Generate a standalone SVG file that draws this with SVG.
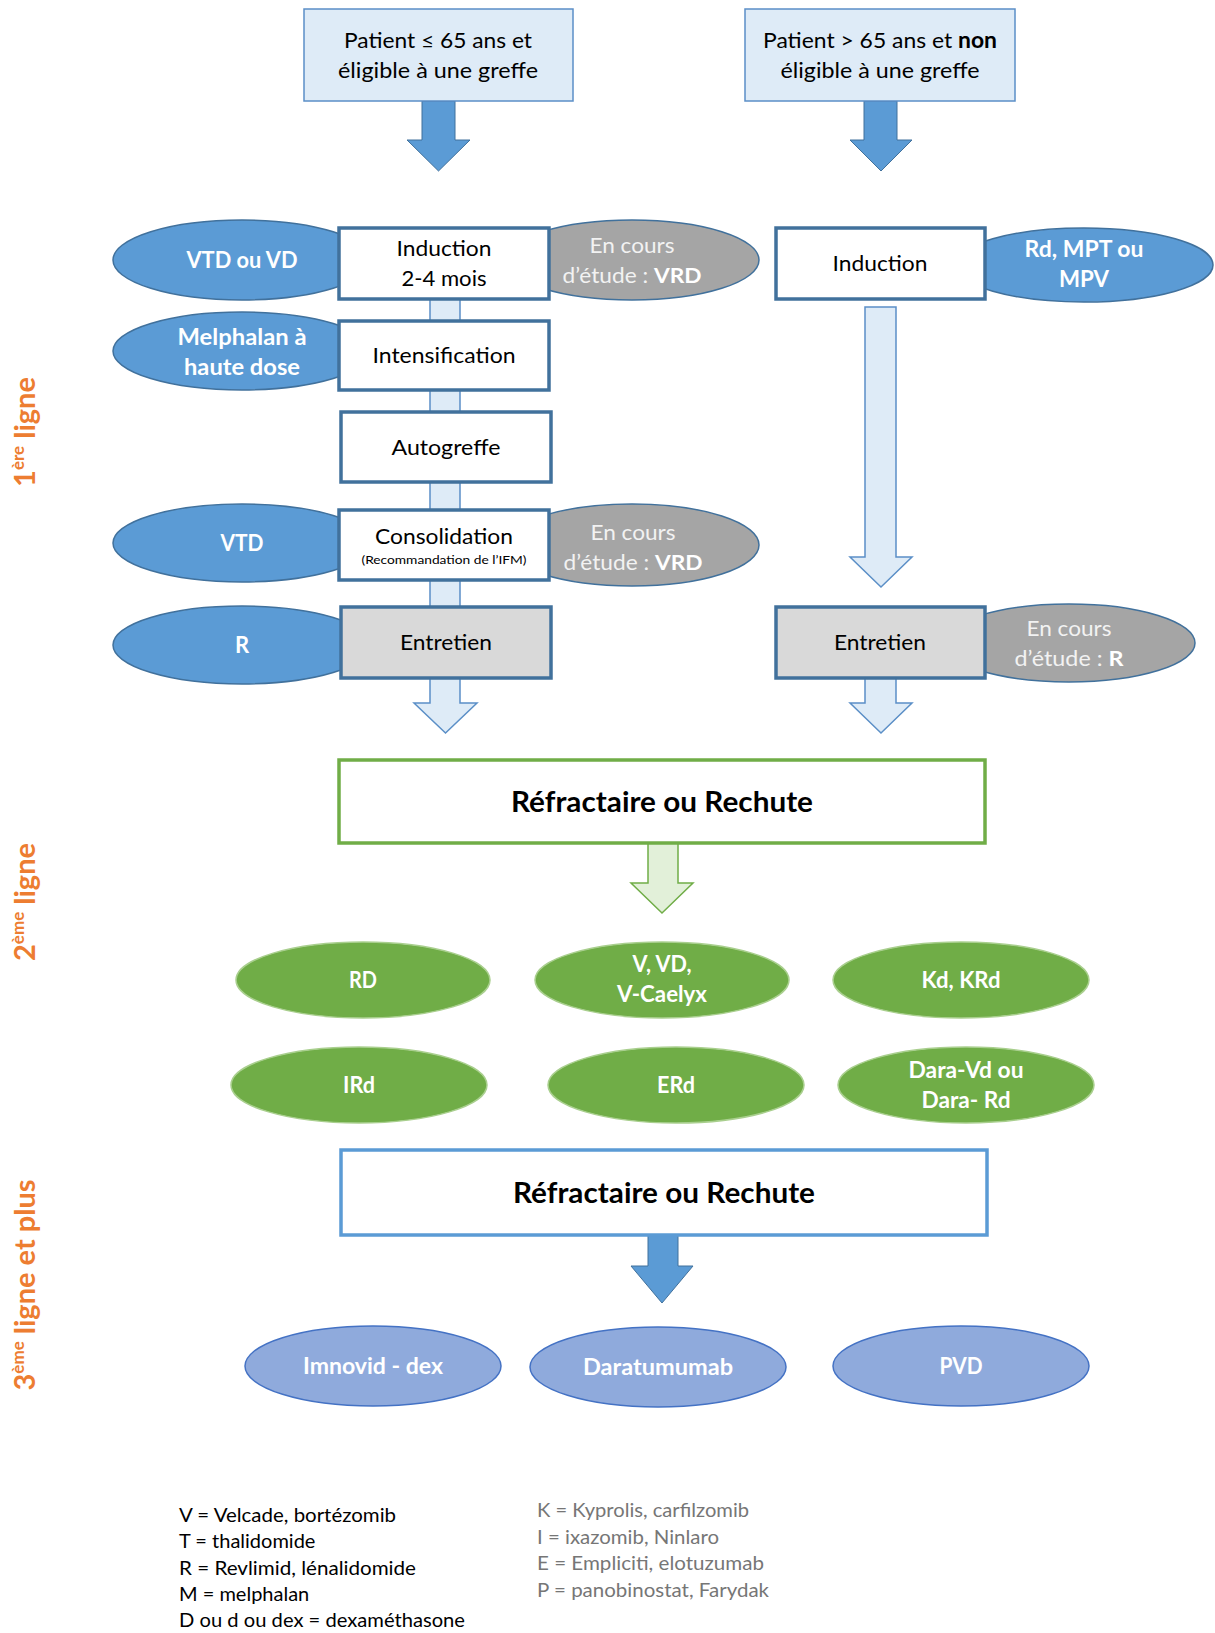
<svg xmlns="http://www.w3.org/2000/svg" width="1215" height="1633" viewBox="0 0 1215 1633">
<style>
text{font-family:Lato,"Open Sans","Liberation Sans",sans-serif}
.bx{fill:#fff;stroke:#41719c;stroke-width:3.5}
.gb{fill:#d9d9d9;stroke:#41719c;stroke-width:3.5}
.tb{fill:#deebf7;stroke:#5b8fc7;stroke-width:1.5}
.be{fill:#5b9bd5;stroke:#41719c;stroke-width:1.5}
.ge{fill:#a5a5a5;stroke:#41719c;stroke-width:1.5}
.gr{fill:#70ad47;stroke:#a9cf8e;stroke-width:1.5}
.pe{fill:#8faadc;stroke:#4472c4;stroke-width:1.5}
.t{font-size:22px;fill:#000;text-anchor:middle}
.w{font-size:22px;fill:#fff;font-weight:bold;text-anchor:middle}
.c{font-size:21px;fill:#f2f2f2;text-anchor:middle}
.big{font-size:28px;font-weight:bold;fill:#000;text-anchor:middle}
.lab{font-size:29px;fill:#ed7d31;font-weight:bold;text-anchor:middle}
.lg{font-size:20px;fill:#000}
.lg2{font-size:20px;fill:#767676}
.arrB{fill:#5b9bd5;stroke:#41719c;stroke-width:1}
.arrL{fill:#deebf7;stroke:#5b8fc7;stroke-width:1.5}
.arrG{fill:#e2f0d9;stroke:#70ad47;stroke-width:1.5}
</style>

<g id="connectors">
  <path class="arrB" d="M422,101 H455 V140 H470 L438.5,171 L407,140 H422 Z"/>
  <path class="arrB" d="M864,101 H897 V140 H912 L881,171 L850,140 H864 Z"/>
  <path class="arrL" d="M430,299 H460 V703 H477 L445.5,733 L414,703 H430 Z"/>
  <path class="arrL" d="M865,307 H896 V557 H912 L881,587 L850,557 H865 Z"/>
  <path class="arrL" d="M865,678 H896 V703 H912 L881,733 L850,703 H865 Z"/>
  <path class="arrG" d="M648,843 H678 V883 H693 L662,913 L631,883 H648 Z"/>
  <path class="arrB" d="M648,1235 H678 V1266 H693 L662,1303 L631,1266 H648 Z"/>
</g>

<g id="labels">
  <text class="lab" transform="translate(35,432) rotate(-90)">1<tspan font-size="17" dy="-11">ère</tspan><tspan dy="11"> ligne</tspan></text>
  <text class="lab" transform="translate(35,902) rotate(-90)">2<tspan font-size="17" dy="-11">ème</tspan><tspan dy="11"> ligne</tspan></text>
  <text class="lab" transform="translate(35,1285) rotate(-90)">3<tspan font-size="17" dy="-11">ème</tspan><tspan dy="11"> ligne et plus</tspan></text>
</g>

<g id="patient-jeune">
  <rect class="tb" x="304" y="9" width="269" height="92"/>
  <text class="t" x="438" y="48" textLength="188" lengthAdjust="spacingAndGlyphs">Patient ≤ 65 ans et</text>
  <text class="t" x="438" y="78" textLength="200" lengthAdjust="spacingAndGlyphs">éligible à une greffe</text>
</g>
<g id="patient-age">
  <rect class="tb" x="745" y="9" width="270" height="92"/>
  <text class="t" x="880" y="48" textLength="234" lengthAdjust="spacingAndGlyphs">Patient &gt; 65 ans et <tspan font-weight="bold">non</tspan></text>
  <text class="t" x="880" y="78" textLength="199" lengthAdjust="spacingAndGlyphs">éligible à une greffe</text>
</g>

<g id="vtd-vd">
  <ellipse class="be" cx="242" cy="260" rx="129" ry="40"/>
  <text class="w" x="242" y="268" textLength="111" lengthAdjust="spacingAndGlyphs">VTD ou VD</text>
</g>
<g id="etude-vrd-1">
  <ellipse class="ge" cx="632" cy="260" rx="127" ry="40"/>
  <text class="c" x="632" y="253" textLength="85" lengthAdjust="spacingAndGlyphs">En cours</text>
  <text class="c" x="632" y="283" textLength="139" lengthAdjust="spacingAndGlyphs">d’étude  : <tspan font-weight="bold" fill="#fff">VRD</tspan></text>
</g>
<g id="induction-1">
  <rect class="bx" x="339" y="228" width="210" height="71"/>
  <text class="t" x="444" y="256" textLength="95" lengthAdjust="spacingAndGlyphs">Induction</text>
  <text class="t" x="444" y="286" textLength="85" lengthAdjust="spacingAndGlyphs">2-4 mois</text>
</g>

<g id="melphalan">
  <ellipse class="be" cx="242" cy="351" rx="129" ry="39"/>
  <text class="w" x="242" y="345" textLength="129" lengthAdjust="spacingAndGlyphs">Melphalan à</text>
  <text class="w" x="242" y="375" textLength="116" lengthAdjust="spacingAndGlyphs">haute dose</text>
</g>
<g id="intensification">
  <rect class="bx" x="339" y="321" width="210" height="69"/>
  <text class="t" x="444" y="363" textLength="143" lengthAdjust="spacingAndGlyphs">Intensification</text>
</g>

<g id="autogreffe">
  <rect class="bx" x="341" y="412" width="210" height="70"/>
  <text class="t" x="446" y="455" textLength="109" lengthAdjust="spacingAndGlyphs">Autogreffe</text>
</g>

<g id="vtd">
  <ellipse class="be" cx="242" cy="543" rx="129" ry="39"/>
  <text class="w" x="242" y="551" textLength="43" lengthAdjust="spacingAndGlyphs">VTD</text>
</g>
<g id="etude-vrd-2">
  <ellipse class="ge" cx="632" cy="545" rx="127" ry="41"/>
  <text class="c" x="633" y="540" textLength="85" lengthAdjust="spacingAndGlyphs">En cours</text>
  <text class="c" x="633" y="570" textLength="139" lengthAdjust="spacingAndGlyphs">d’étude  : <tspan font-weight="bold" fill="#fff">VRD</tspan></text>
</g>
<g id="consolidation">
  <rect class="bx" x="339" y="510" width="210" height="70"/>
  <text class="t" x="444" y="544" textLength="138" lengthAdjust="spacingAndGlyphs">Consolidation</text>
  <text x="444" y="564" font-size="12" text-anchor="middle" textLength="165" lengthAdjust="spacingAndGlyphs">(Recommandation de l’IFM)</text>
</g>

<g id="r-entretien">
  <ellipse class="be" cx="242" cy="645" rx="129" ry="39"/>
  <text class="w" x="242" y="653">R</text>
</g>
<g id="entretien-1">
  <rect class="gb" x="341" y="607" width="210" height="71"/>
  <text class="t" x="446" y="650" textLength="92" lengthAdjust="spacingAndGlyphs">Entretien</text>
</g>

<g id="rd-mpt-mpv">
  <ellipse class="be" cx="1084" cy="265" rx="129" ry="37"/>
  <text class="w" x="1084" y="257" textLength="119" lengthAdjust="spacingAndGlyphs">Rd, MPT ou</text>
  <text class="w" x="1084" y="287" textLength="50" lengthAdjust="spacingAndGlyphs">MPV</text>
</g>
<g id="induction-2">
  <rect class="bx" x="776" y="228" width="209" height="71"/>
  <text class="t" x="880" y="271" textLength="95" lengthAdjust="spacingAndGlyphs">Induction</text>
</g>

<g id="etude-r">
  <ellipse class="ge" cx="1069" cy="643" rx="126" ry="39"/>
  <text class="c" x="1069" y="636" textLength="85" lengthAdjust="spacingAndGlyphs">En cours</text>
  <text class="c" x="1069" y="666" textLength="109" lengthAdjust="spacingAndGlyphs">d’étude  : <tspan font-weight="bold" fill="#fff">R</tspan></text>
</g>
<g id="entretien-2">
  <rect class="gb" x="776" y="607" width="209" height="71"/>
  <text class="t" x="880" y="650" textLength="92" lengthAdjust="spacingAndGlyphs">Entretien</text>
</g>

<g id="refractaire-1">
  <rect x="339" y="760" width="646" height="83" fill="#fff" stroke="#70ad47" stroke-width="3.5"/>
  <text class="big" x="662" y="812" textLength="302" lengthAdjust="spacingAndGlyphs">Réfractaire ou Rechute</text>
</g>

<g id="rd">
  <ellipse class="gr" cx="363" cy="980" rx="127" ry="38"/>
  <text class="w" x="363" y="988" textLength="28" lengthAdjust="spacingAndGlyphs">RD</text>
</g>
<g id="v-vd-caelyx">
  <ellipse class="gr" cx="662" cy="980" rx="127" ry="38"/>
  <text class="w" x="662" y="972" textLength="59" lengthAdjust="spacingAndGlyphs">V, VD,</text>
  <text class="w" x="662" y="1002" textLength="90" lengthAdjust="spacingAndGlyphs">V-Caelyx</text>
</g>
<g id="kd-krd">
  <ellipse class="gr" cx="961" cy="980" rx="128" ry="38"/>
  <text class="w" x="961" y="988" textLength="79" lengthAdjust="spacingAndGlyphs">Kd, KRd</text>
</g>
<g id="ird">
  <ellipse class="gr" cx="359" cy="1085" rx="128" ry="38"/>
  <text class="w" x="359" y="1093" textLength="32" lengthAdjust="spacingAndGlyphs">IRd</text>
</g>
<g id="erd">
  <ellipse class="gr" cx="676" cy="1085" rx="128" ry="38"/>
  <text class="w" x="676" y="1093" textLength="38" lengthAdjust="spacingAndGlyphs">ERd</text>
</g>
<g id="dara">
  <ellipse class="gr" cx="966" cy="1085" rx="128" ry="38"/>
  <text class="w" x="966" y="1078" textLength="115" lengthAdjust="spacingAndGlyphs">Dara-Vd ou</text>
  <text class="w" x="966" y="1108" textLength="89" lengthAdjust="spacingAndGlyphs">Dara- Rd</text>
</g>

<g id="refractaire-2">
  <rect x="341" y="1150" width="646" height="85" fill="#fff" stroke="#5b9bd5" stroke-width="3.5"/>
  <text class="big" x="664" y="1203" textLength="302" lengthAdjust="spacingAndGlyphs">Réfractaire ou Rechute</text>
</g>

<g id="imnovid">
  <ellipse class="pe" cx="373" cy="1366" rx="128" ry="40"/>
  <text class="w" x="373" y="1374" textLength="140" lengthAdjust="spacingAndGlyphs">Imnovid - dex</text>
</g>
<g id="daratumumab">
  <ellipse class="pe" cx="658" cy="1367" rx="128" ry="40"/>
  <text class="w" x="658" y="1375" textLength="150" lengthAdjust="spacingAndGlyphs">Daratumumab</text>
</g>
<g id="pvd">
  <ellipse class="pe" cx="961" cy="1366" rx="128" ry="40"/>
  <text class="w" x="961" y="1374" textLength="43" lengthAdjust="spacingAndGlyphs">PVD</text>
</g>

<g id="legende">
  <text class="lg" x="179" y="1522" textLength="217" lengthAdjust="spacingAndGlyphs">V = Velcade, bortézomib</text>
  <text class="lg" x="179" y="1548">T = thalidomide</text>
  <text class="lg" x="179" y="1575" textLength="237" lengthAdjust="spacingAndGlyphs">R = Revlimid, lénalidomide</text>
  <text class="lg" x="179" y="1601">M = melphalan</text>
  <text class="lg" x="179" y="1627" textLength="286" lengthAdjust="spacingAndGlyphs">D ou d ou dex = dexaméthasone</text>
  <text class="lg2" x="537" y="1517" textLength="212" lengthAdjust="spacingAndGlyphs">K = Kyprolis, carfilzomib</text>
  <text class="lg2" x="537" y="1544" textLength="182" lengthAdjust="spacingAndGlyphs">I = ixazomib, Ninlaro</text>
  <text class="lg2" x="537" y="1570" textLength="227" lengthAdjust="spacingAndGlyphs">E = Empliciti, elotuzumab</text>
  <text class="lg2" x="537" y="1597" textLength="232" lengthAdjust="spacingAndGlyphs">P = panobinostat, Farydak</text>
</g>
</svg>
